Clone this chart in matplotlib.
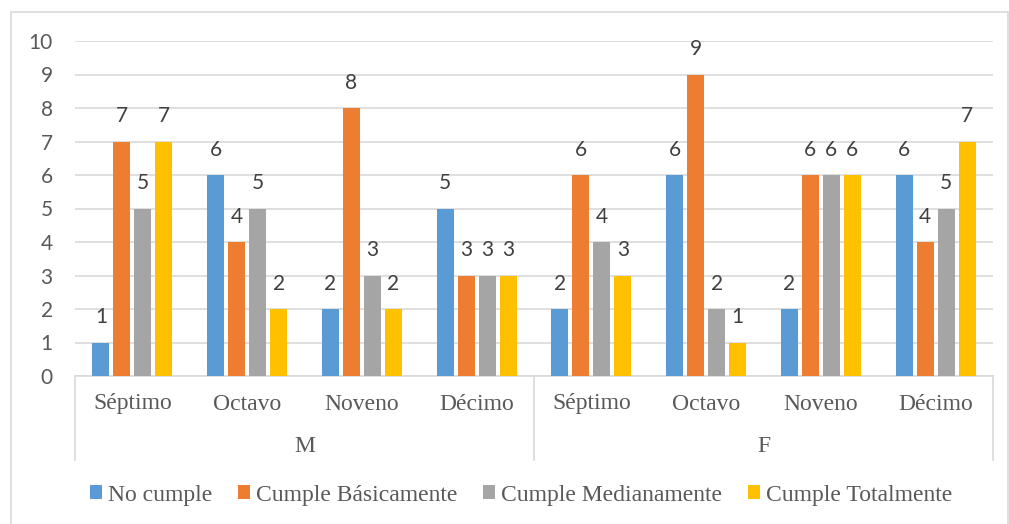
import matplotlib
matplotlib.use("Agg")
import matplotlib.pyplot as plt
import matplotlib.transforms as mtransforms
from matplotlib.patches import Rectangle
import numpy as np

# datos
grados = ["Séptimo", "Octavo", "Noveno", "Décimo", "Séptimo", "Octavo", "Noveno", "Décimo"]
sexos = ["M", "F"]
series = ["No cumple", "Cumple Básicamente", "Cumple Medianamente", "Cumple Totalmente"]
no_cumple = [1, 6, 2, 5, 2, 6, 2, 6]
cumple_basicamente = [7, 4, 8, 3, 6, 9, 6, 4]
cumple_medianamente = [5, 5, 3, 3, 4, 2, 6, 5]
cumple_totalmente = [7, 2, 2, 3, 3, 1, 6, 7]

colores = ["#5B9BD5", "#ED7D31", "#A5A5A5", "#FFC000"]
gris_linea = "#D9D9D9"
gris_texto = "#595959"
sans = ["Lato", "DejaVu Sans"]
serif = ["Liberation Serif", "DejaVu Serif"]

W, H = 1009, 524
fig = plt.figure(figsize=(W / 100, H / 100), dpi=100)
ax = fig.add_axes([75 / W, 1 - 376 / H, (993 - 75) / W, (376 - 41) / H])

x = np.arange(len(grados))
paso = 0.183
ancho = 0.148
valores = [no_cumple, cumple_basicamente, cumple_medianamente, cumple_totalmente]
for i, (nombre, vals) in enumerate(zip(series, valores)):
    pos = x + (i - 1.5) * paso
    barras = ax.bar(pos, vals, width=ancho, color=colores[i], label=nombre, zorder=3)
    for b, v in zip(barras, vals):
        ax.annotate(str(v), (b.get_x() + b.get_width() / 2, v),
                    xytext=(0, 11), textcoords="offset points",
                    ha="center", va="bottom", fontsize=15,
                    color="#404040", family=sans)

ax.set_xlim(-0.5, len(grados) - 0.5)
ax.set_ylim(0, 10)
ax.set_yticks(range(0, 11))
ax.tick_params(axis="y", length=0, pad=16, labelsize=15, labelcolor=gris_texto)
for t in ax.get_yticklabels():
    t.set_family(sans)
ax.set_xticks([])
ax.grid(axis="y", color=gris_linea, linewidth=1.2, zorder=0)
for s in ["top", "right", "left"]:
    ax.spines[s].set_visible(False)
ax.spines["bottom"].set_color(gris_linea)
ax.spines["bottom"].set_linewidth(1.2)

# etiquetas de categoria en dos niveles
trans = mtransforms.blended_transform_factory(ax.transData, ax.transAxes)
alto = 376 - 41
for xi, g in zip(x, grados):
    ax.text(xi, -28 / alto, g, transform=trans, ha="center", va="center",
            fontsize=17, color=gris_texto, family=serif)
for k, s in enumerate(sexos):
    ax.text(k * 4 + 1.5, -71 / alto, s, transform=trans, ha="center", va="center",
            fontsize=17, color=gris_texto, family=serif)
for xs in [-0.5, 3.5, 7.5]:
    ax.plot([xs, xs], [0, -84 / alto], transform=trans, color=gris_linea,
            linewidth=1.2, clip_on=False)

fig.legend(loc="center", bbox_to_anchor=(521 / W, 1 - 495 / H), ncol=4,
           frameon=False, prop={"family": serif, "size": 17},
           labelcolor=gris_texto, handlelength=0.5, handleheight=0.5,
           handletextpad=0.25, columnspacing=1.1, borderaxespad=0)

# borde del area del grafico
fig.patches.append(Rectangle((11 / W, -0.02), (1008 - 11) / W, 1 - 12 / H + 0.02,
                             transform=fig.transFigure, fill=False,
                             edgecolor=gris_linea, linewidth=1.2))

fig.savefig("out.png", dpi=100)
